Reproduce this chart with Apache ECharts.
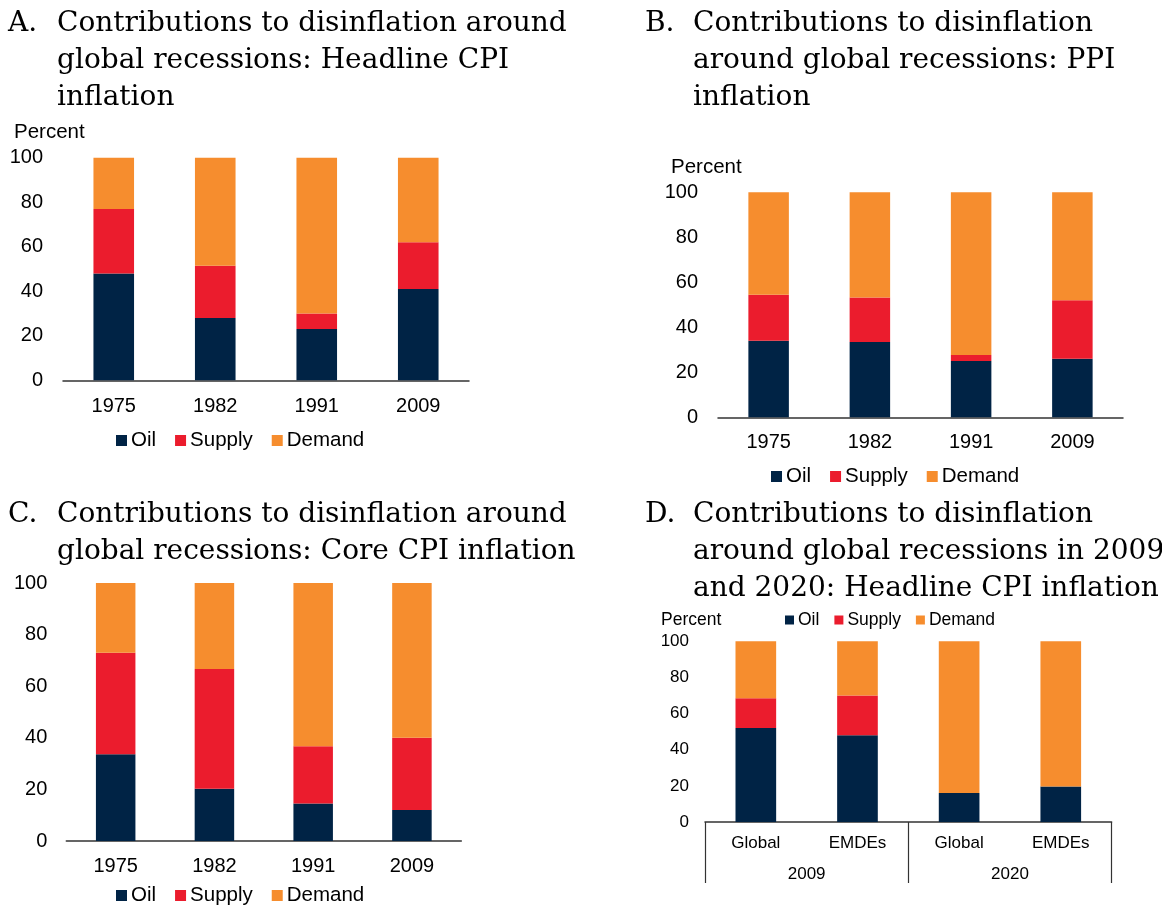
<!DOCTYPE html>
<html>
<head>
<meta charset="utf-8">
<script src="https://cdn.jsdelivr.net/npm/echarts@6/dist/echarts.min.js"></script>
<style>
  html, body { margin: 0; padding: 0; background: #fff; }
  #chart { width: 1162px; height: 907px; }
</style>
</head>
<body>
<div id="chart"></div>
<script>
// ---- data ----
const yearCats = ['1975', '1982', '1991', '2009']

// A. Headline CPI
const headlineOil = [48, 28, 23, 41]
const headlineSupply = [29, 23.5, 7, 21]
const headlineDemand = [23, 48.5, 70, 38]

// B. PPI
const ppiOil = [34, 33.5, 25, 26]
const ppiSupply = [20.5, 19.7, 2.7, 26]
const ppiDemand = [45.5, 46.8, 72.3, 48]

// C. Core CPI
const coreOil = [33.6, 20.3, 14.5, 12]
const coreSupply = [39.4, 46.4, 22.2, 28]
const coreDemand = [27, 33.3, 63.3, 60]

// D. 2009 vs 2020
const regionCats = ['Global', 'EMDEs', 'Global', 'EMDEs']
const yearGroups = ['2009', '2020']
const recOil = [52, 48, 16, 19.6]
const recSupply = [16.5, 22, 0, 0]
const recDemand = [31.5, 30, 84, 80.4]

const yTicks = { min: 0, max: 100, interval: 20 }

// ---- styles ----
const NAVY = '#002345'
const RED = '#EB1C2D'
const ORANGE = '#F68D2E'
const SANS = '"Liberation Sans", Arial, Helvetica, sans-serif'
const SERIF = '"DejaVu Serif", serif'
const AXIS_COLOR = '#333333'

const chart = echarts.init(document.getElementById('chart'))

const titleStyle = {
  fontFamily: SERIF, fontSize: 28, fontWeight: 'normal', color: '#000', lineHeight: 37
}
const mkTitle = (text, left, top) => ({ text, left, top, padding: 0, textStyle: titleStyle })

const grids = [
  { left: 63, top: 157.7, width: 406, height: 222.6 },
  { left: 718, top: 192.3, width: 405, height: 225 },
  { left: 66.3, top: 583, width: 395, height: 258 },
  { left: 705, top: 641.3, width: 406.6, height: 180.7 }
]

const mkX = (gridIndex, data, fontSize, margin) => ({
  type: 'category',
  gridIndex,
  data,
  axisLine: { lineStyle: { color: AXIS_COLOR, width: 1.5 } },
  axisTick: { show: false },
  axisLabel: { color: '#000', fontFamily: SANS, fontSize, margin }
})

const mkY = (gridIndex, fontSize, margin) => ({
  type: 'value',
  gridIndex,
  ...yTicks,
  axisLine: { show: false },
  axisTick: { show: false },
  splitLine: { show: false },
  axisLabel: { color: '#000', fontFamily: SANS, fontSize, margin }
})

const mkSeries = (idx, oil, supply, demand) => {
  const base = { type: 'bar', stack: 'p' + idx, xAxisIndex: idx, yAxisIndex: idx, barWidth: '40%' }
  return [
    { ...base, name: 'Oil', data: oil, itemStyle: { color: NAVY } },
    { ...base, name: 'Supply', data: supply, itemStyle: { color: RED } },
    { ...base, name: 'Demand', data: demand, itemStyle: { color: ORANGE } }
  ]
}

const mkLegend = (left, top, size, fontSize, itemGap) => ({
  left, top,
  padding: 0,
  icon: 'rect',
  itemWidth: size,
  itemHeight: size,
  itemGap,
  data: ['Oil', 'Supply', 'Demand'],
  textStyle: { color: '#000', fontFamily: SANS, fontSize, padding: [0, 0, 0, -1] }
})

const percentLabel = (x, y, size) => ({
  type: 'text',
  x, y,
  style: { text: 'Percent', fill: '#000', font: size + 'px ' + SANS, verticalAlign: 'middle' }
})

chart.setOption({
  backgroundColor: '#fff',
  animation: false,
  title: [
    mkTitle('A.', 8, 5),
    mkTitle('Contributions to disinflation around\nglobal recessions: Headline CPI\ninflation', 57, 5),
    mkTitle('B.', 645, 5),
    mkTitle('Contributions to disinflation\naround global recessions: PPI\ninflation', 693, 5),
    mkTitle('C.', 8, 496),
    mkTitle('Contributions to disinflation around\nglobal recessions: Core CPI inflation', 57, 496),
    mkTitle('D.', 645, 496),
    mkTitle('Contributions to disinflation\naround global recessions in 2009\nand 2020: Headline CPI inflation', 693, 496)
  ],
  grid: grids,
  xAxis: [
    mkX(0, yearCats, 20, 16),
    mkX(1, yearCats, 20, 15),
    mkX(2, yearCats, 20, 15),
    mkX(3, regionCats, 17, 13),
    // group row for panel D, ticks act as separators
    {
      type: 'category',
      gridIndex: 3,
      position: 'bottom',
      data: yearGroups,
      axisLine: { show: false },
      axisTick: { show: true, length: 61, lineStyle: { color: AXIS_COLOR, width: 1.2 } },
      axisLabel: { color: '#000', fontFamily: SANS, fontSize: 17, margin: 44 }
    }
  ],
  yAxis: [
    mkY(0, 20, 20),
    mkY(1, 20, 20),
    mkY(2, 20, 19),
    mkY(3, 17, 16)
  ],
  legend: [
    mkLegend(116, 430, 11, 20.5, 19),
    mkLegend(771, 466, 11, 20.5, 19),
    mkLegend(116, 885, 11, 20.5, 19),
    mkLegend(785, 611, 9, 17.5, 15)
  ],
  graphic: [
    percentLabel(14, 132, 20.5),
    percentLabel(671, 167, 20.5),
    percentLabel(661, 620, 17.5)
  ],
  series: [
    ...mkSeries(0, headlineOil, headlineSupply, headlineDemand),
    ...mkSeries(1, ppiOil, ppiSupply, ppiDemand),
    ...mkSeries(2, coreOil, coreSupply, coreDemand),
    ...mkSeries(3, recOil, recSupply, recDemand)
  ]
})

window.addEventListener('resize', () => chart.resize())
</script>
</body>
</html>
